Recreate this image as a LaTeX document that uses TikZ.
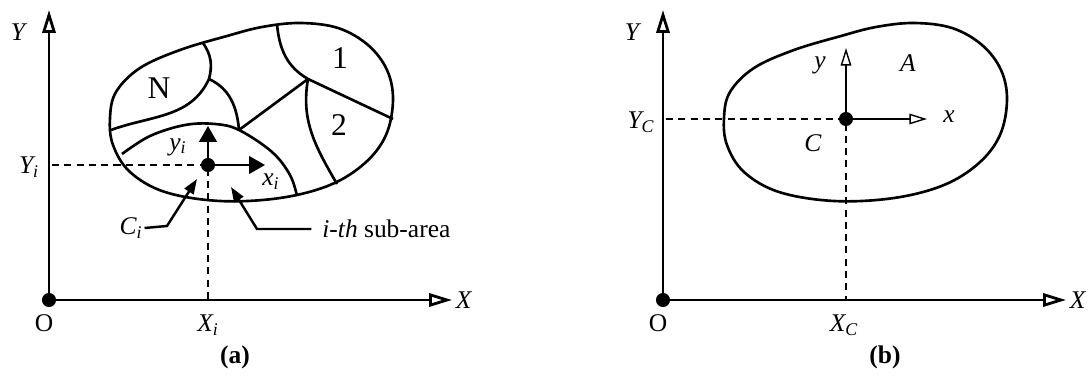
\documentclass[tikz,border=0pt]{standalone}
\usepackage{fontspec}
\setmainfont{Liberation Serif}
\usetikzlibrary{arrows.meta}

\tikzset{
    axis/.style={line width=1.6pt, -{Triangle[open, length=13pt, width=7.5pt]}},
    outline/.style={line width=1.5pt},
    guide/.style={line width=0.6pt, dash pattern=on 4pt off 3pt},
    dot/.style={circle, fill, inner sep=0pt, minimum size=8pt},
    bigarrow/.style={line width=1.2pt, -{Triangle[length=9pt, width=10pt]}},
    openarrow/.style={line width=0.8pt, -{Triangle[open, length=10pt, width=6pt]}},
    leader/.style={line width=1.4pt, -{Triangle[length=8.5pt, width=6pt]}},
    lbl/.style={inner sep=1pt, font=\fontsize{14.5}{17}\selectfont},
    region/.style={inner sep=1pt, font=\fontsize{18}{20}\selectfont},
}

\begin{document}
\begin{tikzpicture}[x=0.02cm, y=-0.02cm]
    \useasboundingbox (0,0) rectangle (1089,378);

    % axes
    \foreach \p/\dx in {a/0, b/614} {
        \node[dot] (o\p) at (49+\dx,300) {};
        \coordinate (ytip\p) at (49+\dx,10);
        \coordinate (xtip\p) at (452+\dx,300);
        \draw[axis] (o\p.center) -- (ytip\p);
        \draw[axis] (o\p.center) -- (xtip\p);
        \node[lbl] (ylab\p) at (19+\dx,32) {\textit{Y}};
        \node[lbl] (xlab\p) at (464+\dx,300) {\textit{X}};
        \node[lbl] (olab\p) at (44+\dx,323) {O};
        \draw[outline, shift={(\dx,0)}] plot[smooth cycle, tension=0.6] coordinates {
            (110,118) (116,92) (140,68) (180,50) (227,36) (262,27) (300,23) (338,28)
            (368,45) (387,70) (393,100) (386,135) (365,163) (330,185) (280,198)
            (220,201) (165,192) (130,172) (113,145)};
    }

    % (a) sub-areas
    \coordinate (j1) at (209,79);
    \coordinate (j2) at (239,130);
    \coordinate (j3) at (308,79);
    \draw[outline] (203,43) to[out=-55, in=75] (j1);
    \draw[outline] (j1) to[out=-115, in=20] (111,130);
    \draw[outline] (j1) to[out=-25, in=95] (j2);
    \draw[outline] plot[smooth, tension=0.6] coordinates {
        (122,154) (150,136) (185,125) (215,124) (j2) (272,152) (290,175) (297,196)};
    \draw[outline] (j2) -- (j3);
    \draw[outline] (277,24) to[out=-85, in=150] (j3);
    \draw[outline] (j3) -- (393,119);
    \draw[outline] (j3) to[out=-100, in=120] (337,184);
    \node[region] (rn) at (159,88) {N};
    \node[region] (r1) at (340,58) {1};
    \node[region] (r2) at (339,125) {2};

    \node[dot] (ca) at (208,165) {};
    \draw[guide] (52,165) -- (ca.center) -- (208,300);
    \draw[bigarrow] (ca.center) -- (208,126);
    \draw[bigarrow] (ca.center) -- (265,165);
    \node[lbl] (yia) at (178,147) {\textit{y\textsubscript{i}}};
    \node[lbl] (xia) at (271,182) {\textit{x\textsubscript{i}}};
    \node[lbl] (yil) at (29,167) {\textit{Y\textsubscript{i}}};
    \node[lbl] (xil) at (208,325) {\textit{X\textsubscript{i}}};

    \node[lbl] (ci) at (131,228) {\textit{C\textsubscript{i}}};
    \coordinate (citip) at (197,179);
    \draw[leader] (ci.east) -- (167,226) -- (citip);
    \node[lbl, anchor=west, inner sep=0pt] (sub) at (322,229) {\textit{i-th} sub-area};
    \coordinate (subtip) at (231,187);
    \draw[leader, shorten <=6pt] (sub.west) -- (257,229) -- (subtip);
    \node[lbl] (capa) at (235,357) {\textbf{(a)}};

    % (b) centroid
    \node[dot] (cb) at (846,119) {};
    \draw[guide] (666,119) -- (cb.center) -- (846,300);
    \draw[openarrow] (cb.center) -- (846,48);
    \draw[openarrow] (cb.center) -- (927,119);
    \node[lbl] (yb) at (820,65) {\textit{y}};
    \node[lbl] (xb) at (949,117) {\textit{x}};
    \node[lbl] (ab) at (908,63) {\textit{A}};
    \node[lbl] (cl) at (813,143) {\textit{C}};
    \node[lbl] (ycl) at (641,122) {\textit{Y\textsubscript{C}}};
    \node[lbl] (xcl) at (844,325) {\textit{X\textsubscript{C}}};
    \node[lbl] (capb) at (885,357) {\textbf{(b)}};
\end{tikzpicture}
\end{document}
